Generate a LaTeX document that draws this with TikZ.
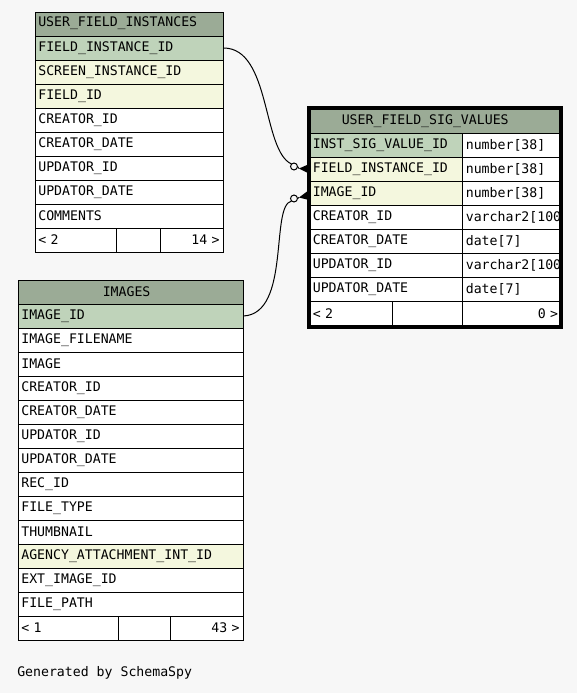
\documentclass[tikz,border=0pt]{standalone}
\usepackage{fontspec}
\usetikzlibrary{calc}
\newfontfamily\tabfont{DejaVu Sans Mono}
\definecolor{bgc}{HTML}{F7F7F7}
\definecolor{hdr}{HTML}{9BAB96}
\definecolor{pkc}{HTML}{BFD3BA}
\definecolor{fkc}{HTML}{F4F7DE}
\begin{document}
\begin{tikzpicture}[x=0.75pt,y=-0.75pt,
  tf/.style={font=\tabfont\fontsize{9.9}{11}\selectfont},
  cell/.style={tf, draw=black, line width=0.75pt, anchor=north west, minimum height=18pt, inner xsep=2.5pt, inner ysep=0pt, align=left, fill=white},
  pk/.style={cell, fill=pkc},
  fk/.style={cell, fill=fkc},
  hd/.style={cell, fill=hdr},
  w1/.style={text width=136pt},
  w2/.style={text width=163.75pt},
  wn/.style={text width=109.75pt},
  wt/.style={text width=69.25pt},
  htext/.style={tf, anchor=west, inner sep=0pt},
  conn/.style={draw=black, line width=0.75pt},
  odot/.style={draw=black, line width=0.75pt, fill=bgc}
]
\useasboundingbox (0,0) rectangle (577,693);
\fill[bgc] (0,0) rectangle (577,693);

% ---------- USER_FIELD_INSTANCES ----------
\node[hd,w1] (t1h) at (34.5,11.5) {};
\node[htext] (t1ht) at (38,23.5) {USER\_FIELD\_INSTANCES};
\node[pk,w1] (fiid) at (34.5,35.5) {FIELD\_INSTANCE\_ID};
\node[fk,w1] (t1r2) at (34.5,59.5) {SCREEN\_INSTANCE\_ID};
\node[fk,w1] (t1r3) at (34.5,83.5) {FIELD\_ID};
\node[cell,w1] (t1r4) at (34.5,107.5) {CREATOR\_ID};
\node[cell,w1] (t1r5) at (34.5,131.5) {CREATOR\_DATE};
\node[cell,w1] (t1r6) at (34.5,155.5) {UPDATOR\_ID};
\node[cell,w1] (t1r7) at (34.5,179.5) {UPDATOR\_DATE};
\node[cell,w1] (t1r8) at (34.5,203.5) {COMMENTS};
\node[cell,text width=55.75pt] (t1f1) at (34.5,227.5) {< 2};
\node[cell,text width=28pt] (t1f2) at (115.5,227.5) {};
\node[cell,text width=42.25pt,align=right] (t1f3) at (159.5,227.5) {14 >};

% ---------- IMAGES ----------
\node[hd,w2] (t2h) at (17.5,279.5) {};
\node[htext] (t2ht) at (102.5,291.5) {IMAGES};
\node[pk,w2] (imgid) at (17.5,303.5) {IMAGE\_ID};
\node[cell,w2] (t2r2) at (17.5,327.5) {IMAGE\_FILENAME};
\node[cell,w2] (t2r3) at (17.5,351.5) {IMAGE};
\node[cell,w2] (t2r4) at (17.5,375.5) {CREATOR\_ID};
\node[cell,w2] (t2r5) at (17.5,399.5) {CREATOR\_DATE};
\node[cell,w2] (t2r6) at (17.5,423.5) {UPDATOR\_ID};
\node[cell,w2] (t2r7) at (17.5,447.5) {UPDATOR\_DATE};
\node[cell,w2] (t2r8) at (17.5,471.5) {REC\_ID};
\node[cell,w2] (t2r9) at (17.5,495.5) {FILE\_TYPE};
\node[cell,w2] (t2r10) at (17.5,519.5) {THUMBNAIL};
\node[fk,w2] (t2r11) at (17.5,543.5) {AGENCY\_ATTACHMENT\_INT\_ID};
\node[cell,w2] (t2r12) at (17.5,567.5) {EXT\_IMAGE\_ID};
\node[cell,w2] (t2r13) at (17.5,591.5) {FILE\_PATH};
\node[cell,text width=70pt] (t2f1) at (17.5,615.5) {< 1};
\node[cell,text width=34pt] (t2f2) at (117.5,615.5) {};
\node[cell,text width=49.75pt,align=right] (t2f3) at (169.5,615.5) {43 >};

% ---------- USER_FIELD_SIG_VALUES ----------
\begin{scope}
\clip (309,108) rectangle (561,327);
\node[hd,text width=184pt,minimum height=18.75pt] (t3h) at (309,108) {};
\node[htext] (t3ht) at (341.5,121.5) {USER\_FIELD\_SIG\_VALUES};
\node[pk,wn] (t3r1) at (309,133) {INST\_SIG\_VALUE\_ID};
\node[cell,wt] (t3t1) at (462,133) {number[38]};
\node[fk,wn] (t3r2) at (309,157) {FIELD\_INSTANCE\_ID};
\node[cell,wt] (t3t2) at (462,157) {number[38]};
\node[fk,wn] (t3r3) at (309,181) {IMAGE\_ID};
\node[cell,wt] (t3t3) at (462,181) {number[38]};
\node[cell,wn] (t3r4) at (309,205) {CREATOR\_ID};
\node[cell,wt] (t3t4) at (462,205) {varchar2[100]};
\node[cell,wn] (t3r5) at (309,229) {CREATOR\_DATE};
\node[cell,wt] (t3t5) at (462,229) {date[7]};
\node[cell,wn] (t3r6) at (309,253) {UPDATOR\_ID};
\node[cell,wt] (t3t6) at (462,253) {varchar2[100]};
\node[cell,wn] (t3r7) at (309,277) {UPDATOR\_DATE};
\node[cell,wt] (t3t7) at (462,277) {date[7]};
\node[cell,text width=56.875pt] (t3f1) at (309,301) {< 2};
\node[cell,text width=47.875pt] (t3f2) at (391.5,301) {};
\node[cell,wt,align=right] (t3f3) at (462,301) {0 >};
\end{scope}
\draw[line width=3pt] (309,108) rectangle (561,327);

% ---------- connectors ----------
\draw[conn] (fiid.east) .. controls +(47.5,0) and +(-29.5,-13.5) .. ($(t3r2.west)+(-17.5,-5.5)$);
\draw[conn] ($(t3r2.west)+(-11.5,-3)$) -- ($(t3r2.west)+(-10,-1)$);
\fill ($(t3r2.west)+(-10,-1)$) -- ($(t3r2.west)+(-2,-4.5)$) -- ($(t3r2.west)+(-2,3)$) -- cycle;
\draw[odot] ($(t3r2.west)+(-15,-3)$) circle[radius=2.6pt];

\draw[conn] (imgid.east) .. controls +(47.5,-2.5) and +(-21.5,4.5) .. ($(t3r3.west)+(-17.5,7.5)$);
\draw[conn] ($(t3r3.west)+(-11.5,5)$) -- ($(t3r3.west)+(-10,4)$);
\fill ($(t3r3.west)+(-10,4)$) -- ($(t3r3.west)+(-2,-2)$) -- ($(t3r3.west)+(-2,6)$) -- cycle;
\draw[odot] ($(t3r3.west)+(-15,5)$) circle[radius=2.6pt];

\node[htext] (gen) at (17,673) {Generated by SchemaSpy};
\end{tikzpicture}
\end{document}
